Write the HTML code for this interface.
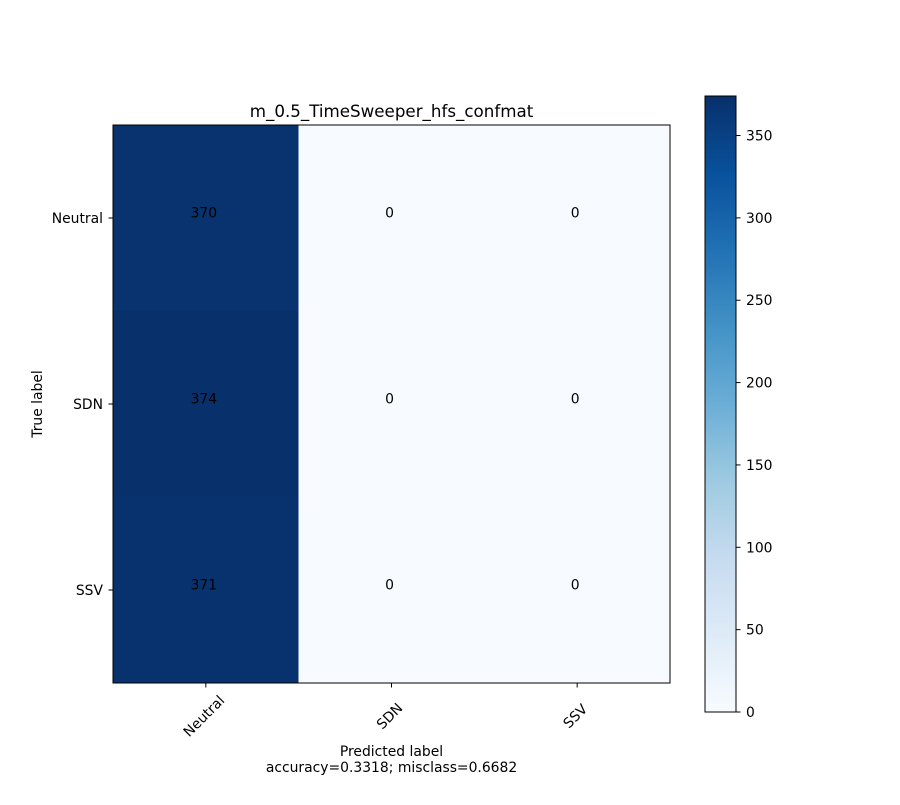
<!DOCTYPE html>
<html><head><meta charset="utf-8"><style>
body{margin:0;background:#fff;}
svg text{font-family:"DejaVu Sans","Liberation Sans",sans-serif;}
</style></head><body>
<svg id="chart" width="900" height="800" viewBox="0 0 900 800" xmlns="http://www.w3.org/2000/svg">
<defs>
<linearGradient id="blues" x1="0" y1="1" x2="0" y2="0">
<stop offset="0" stop-color="#f7fbff"/><stop offset="0.125" stop-color="#deebf7"/><stop offset="0.25" stop-color="#c6dbef"/><stop offset="0.375" stop-color="#9ecae1"/><stop offset="0.5" stop-color="#6baed6"/><stop offset="0.625" stop-color="#4292c6"/><stop offset="0.75" stop-color="#2171b5"/><stop offset="0.875" stop-color="#08519c"/><stop offset="1" stop-color="#08306b"/>
</linearGradient>
</defs>
<text x="391.5" y="117" text-anchor="middle" font-size="16.7">m_0.5_TimeSweeper_hfs_confmat</text>
<g id="cells"></g>
<rect x="113" y="125" width="557" height="558" fill="none" stroke="#000" stroke-width="1"/>
<g id="ticks"></g>
<text x="391.5" y="756" text-anchor="middle" font-size="13.9">Predicted label</text>
<text x="391.5" y="772" text-anchor="middle" font-size="13.9">accuracy=0.3318; misclass=0.6682</text>
<text x="0" y="0" transform="translate(42,404) rotate(-90)" text-anchor="middle" font-size="13.9">True label</text>
<rect x="705" y="96" width="31" height="616" fill="url(#blues)"/>
<rect x="705" y="96" width="31" height="616" fill="none" stroke="#000" stroke-width="1"/>
<g id="cbticks"></g>
</svg>
<script>
const categories = ["Neutral","SDN","SSV"];
const matrix = [[370,0,0],[374,0,0],[371,0,0]];
const cbTicks = [0,50,100,150,200,250,300,350];
const vmax = 374;

const NS="http://www.w3.org/2000/svg";
const X0=113,Y0=125,W=557,H=558,CB_TOP=96,CB_BOT=712;
const cw=W/categories.length, ch=H/categories.length;
const xc=i=>X0+cw*(i+0.5), yc=i=>Y0+ch*(i+0.5);
const cbY=v=>CB_BOT-(CB_BOT-CB_TOP)*v/vmax;
const stops=[[247,251,255],[222,235,247],[198,219,239],[158,202,225],[107,174,214],[66,146,198],[33,113,181],[8,81,156],[8,48,107]];
function color(v){let t=Math.max(0,Math.min(1,v/vmax))*8;let i=Math.min(7,Math.floor(t)),f=t-i;
 const c=stops[i].map((a,k)=>Math.round(a+(stops[i+1][k]-a)*f));return `rgb(${c.join(',')})`;}
function mk(tag,attrs,parent,txt){const e=document.createElementNS(NS,tag);for(const k in attrs)e.setAttribute(k,attrs[k]);if(txt!=null)e.textContent=txt;parent.appendChild(e);return e;}
const cells=document.getElementById('cells'),ticks=document.getElementById('ticks'),cbt=document.getElementById('cbticks');
matrix.forEach((row,r)=>row.forEach((v,c)=>{
 const rc=mk('rect',{x:X0+cw*c,y:Y0+ch*r,width:cw+0.5,height:ch+0.5,fill:color(v),'shape-rendering':'crispEdges'},cells);
 
 
 const t=mk('text',{x:xc(c)-2,y:yc(r)-0.5,'text-anchor':'middle','font-size':13.9,fill:'#000'},cells,String(v));
 
 
}));
categories.forEach((name,i)=>{
 mk('line',{x1:xc(i),x2:xc(i),y1:683,y2:687.5,stroke:'#000'},ticks);
 const tx=mk('text',{x:0,y:0,'text-anchor':'middle','font-size':13.9,transform:`translate(${xc(i)-2},${716}) rotate(-45)`,dy:'0.35em'},ticks,name);
 
 
 mk('line',{x1:108.5,x2:113,y1:yc(i),y2:yc(i),stroke:'#000'},ticks);
 const ty=mk('text',{x:103,y:yc(i)+5,'text-anchor':'end','font-size':13.9},ticks,name);
 
 
});
cbTicks.forEach(v=>{
 const y=cbY(v);
 mk('line',{x1:736,x2:740.5,y1:y,y2:y,stroke:'#000'},cbt);
 const t=mk('text',{x:746,y:y+5,'font-size':13.9},cbt,String(v));
 
 
});
</script>
</body></html>
